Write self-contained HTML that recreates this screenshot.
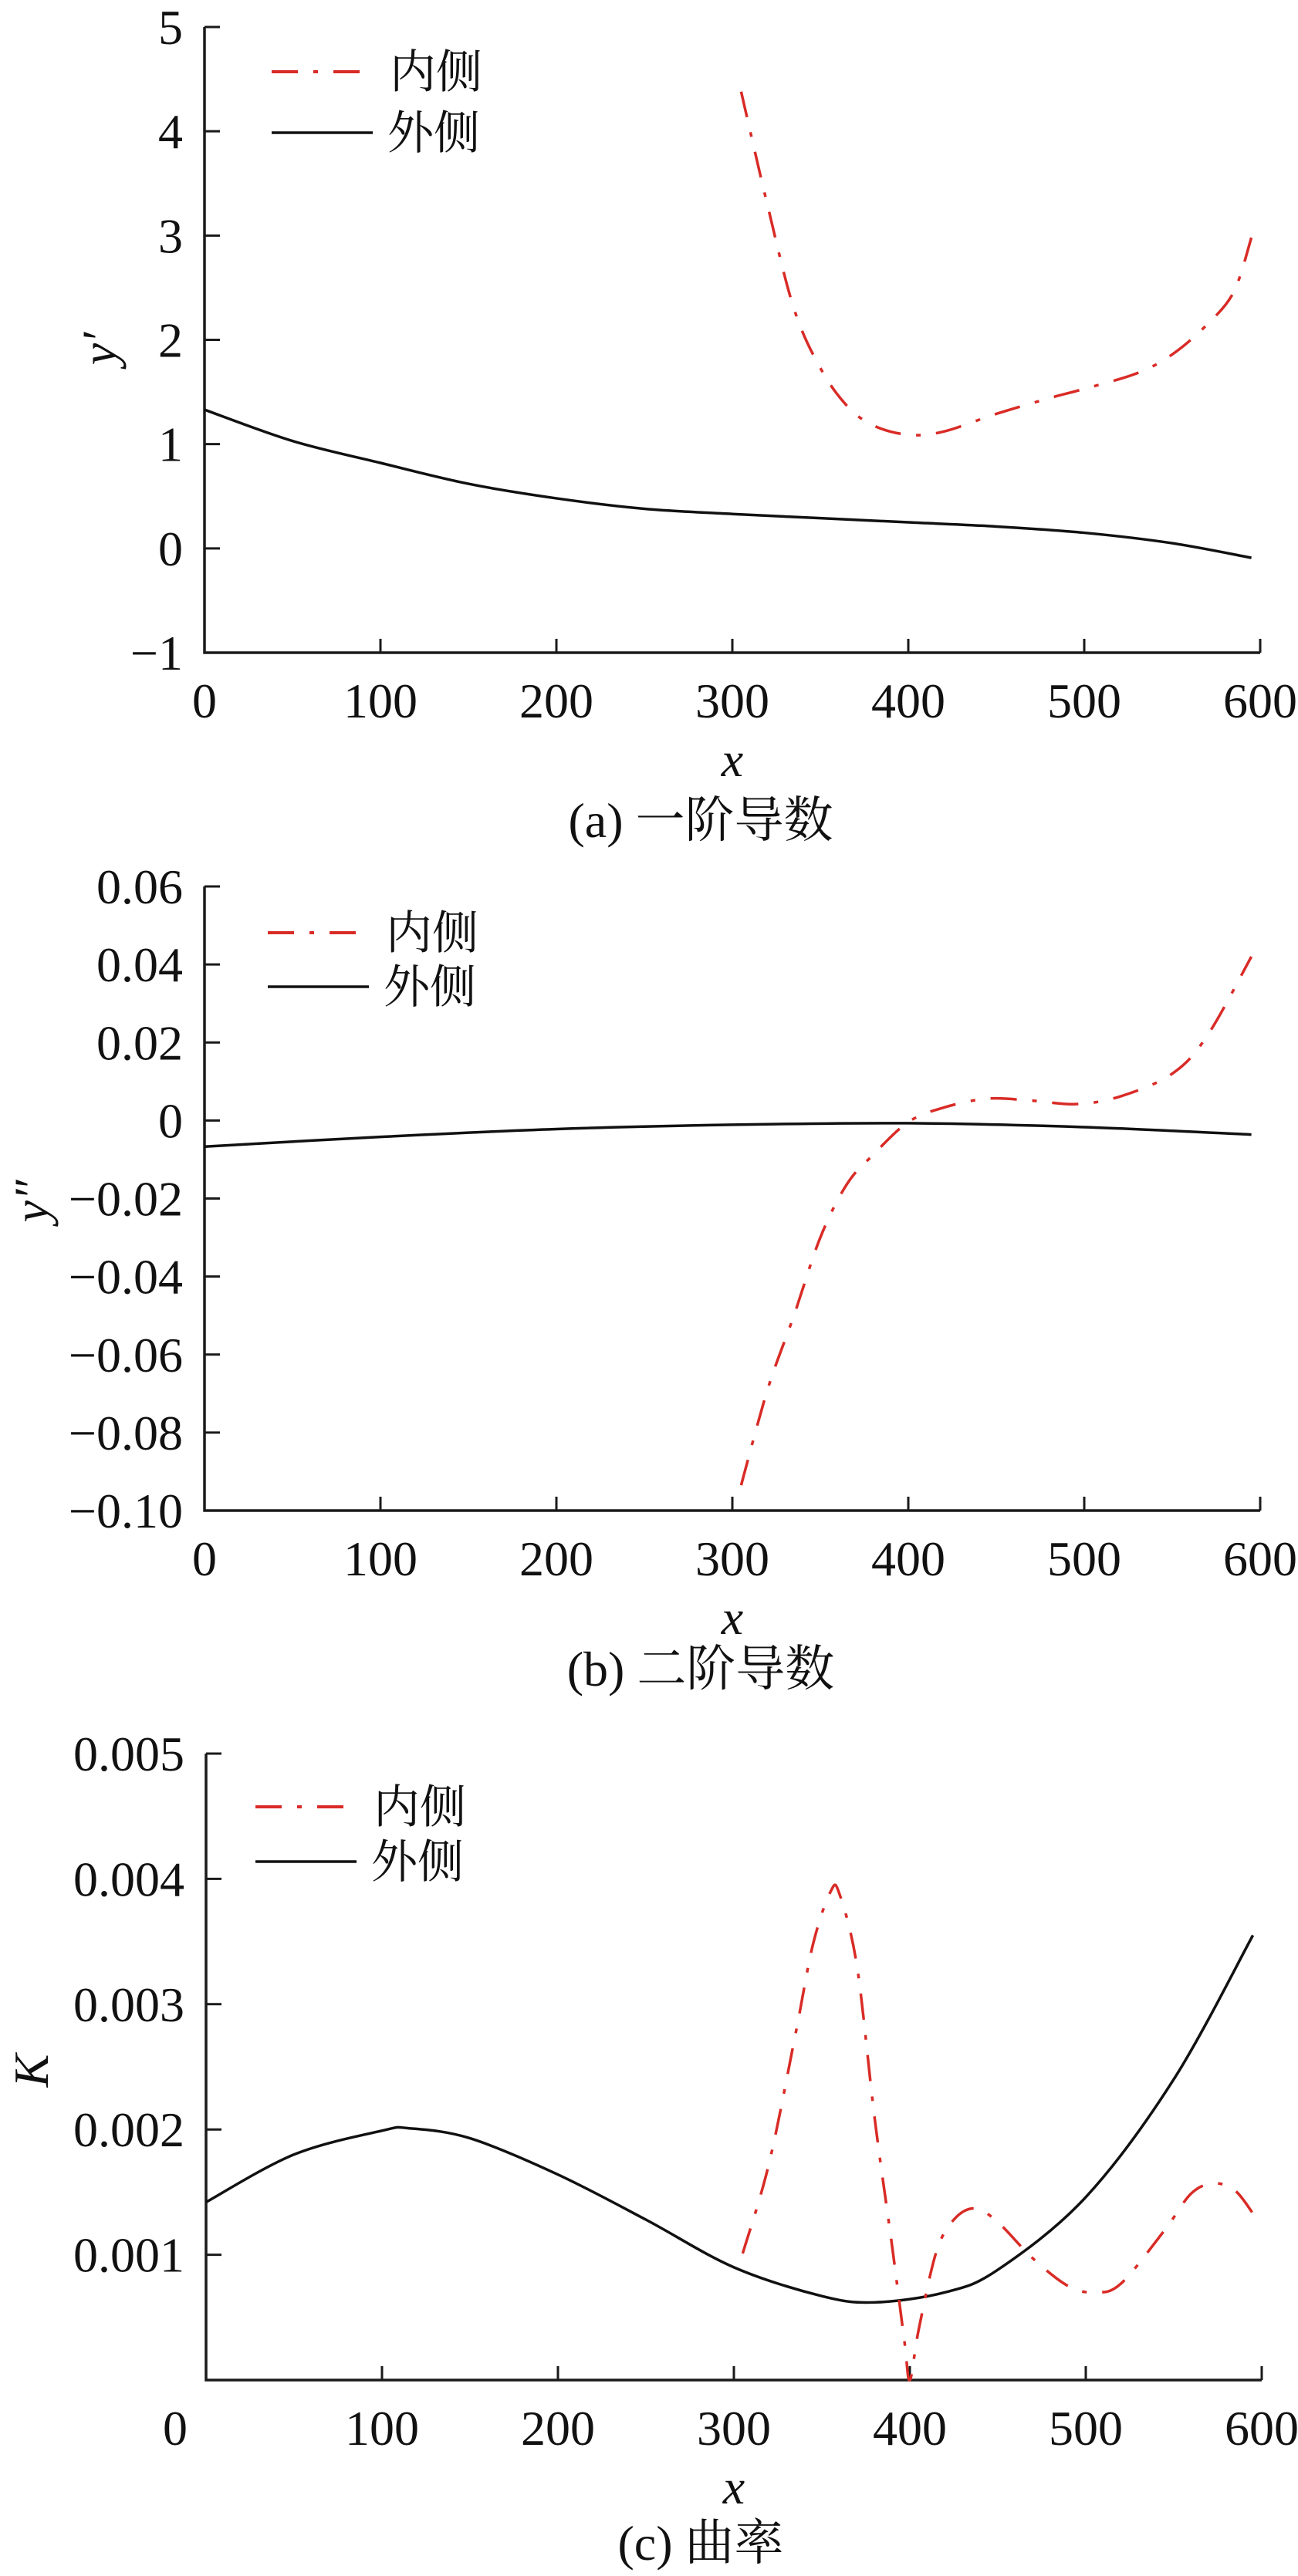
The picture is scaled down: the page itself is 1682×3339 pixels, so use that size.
<!DOCTYPE html>
<html><head><meta charset="utf-8">
<style>
html,body{margin:0;padding:0;background:#fff;}
svg{display:block;}
text{font-family:"Liberation Serif","Noto Serif CJK SC",serif;fill:#111;}
</style></head>
<body>
<svg id="fig" width="1682" height="3339" viewBox="0 0 1682 3339" xmlns="http://www.w3.org/2000/svg"></svg>
<script>
// ---- data ----
const xTicks = [0,100,200,300,400,500,600];
const aYTicks = [-1,0,1,2,3,4,5];
const aOuterX = [0,50,100,150,200,250,300,350,400,450,500,550,595];
const aOuterY = [1.33,1.03,0.82,0.62,0.48,0.38,0.33,0.29,0.25,0.21,0.15,0.05,-0.09];
const aInnerX = [305,320,335,350,365,380,400,420,450,480,500,530,550,570,585,595];
const aInnerY = [4.38,3.29,2.3,1.73,1.37,1.18,1.09,1.12,1.29,1.44,1.53,1.68,1.86,2.15,2.46,2.98];

const bYTicks = [-0.10,-0.08,-0.06,-0.04,-0.02,0,0.02,0.04,0.06];
const bYLabels = ["\u22120.10","\u22120.08","\u22120.06","\u22120.04","\u22120.02","0","0.02","0.04","0.06"];
const bOuterX = [0,100,200,300,400,500,595];
const bOuterY = [-0.0067,-0.0042,-0.0022,-0.0011,-0.0007,-0.0017,-0.0036];
const bInnerX = [305,320,335,350,365,380,400,420,445,470,495,520,550,570,595];
const bInnerY = [-0.0935,-0.069,-0.05,-0.030,-0.0164,-0.0088,-0.0004,0.0033,0.0056,0.0051,0.0042,0.0061,0.012,0.0218,0.042];

const cYTicks = [0.001,0.002,0.003,0.004,0.005];
const cOuterX = [0,50,100,115,150,200,250,300,350,380,420,450,500,550,595];
const cOuterY = [0.00142,0.0018,0.00199,0.00201,0.00193,0.00164,0.00128,0.0009,0.00067,0.00062,0.0007,0.00088,0.00146,0.0024,0.00355];
const cInnerX = [305,320,335,345,355,360,370,380,390,397,400,405,415,425,437,450,470,490,505,520,545,560,573,585,595];
const cInnerY = [0.00101,0.00173,0.00276,0.00348,0.0039,0.00388,0.0033,0.00209,0.00106,0.0003,0.0,0.0004,0.00102,0.00128,0.00137,0.00126,0.00097,0.00075,0.0007,0.00077,0.0012,0.00149,0.00157,0.00151,0.00133];

const NS = "http://www.w3.org/2000/svg";
const svg = document.getElementById('fig');
function mk(tag, attrs, parent){
  const e = document.createElementNS(NS, tag);
  for (const k in attrs) e.setAttribute(k, attrs[k]);
  (parent||svg).appendChild(e);
  return e;
}
function smoothPath(pts){
  let d = `M${pts[0][0]},${pts[0][1]}`;
  for (let i=0;i<pts.length-1;i++){
    const p0=pts[Math.max(0,i-1)], p1=pts[i], p2=pts[i+1], p3=pts[Math.min(pts.length-1,i+2)];
    const c1x=p1[0]+(p2[0]-p0[0])/6, c1y=p1[1]+(p2[1]-p0[1])/6;
    const c2x=p2[0]-(p3[0]-p1[0])/6, c2y=p2[1]-(p3[1]-p1[1])/6;
    d += ` C${c1x},${c1y} ${c2x},${c2y} ${p2[0]},${p2[1]}`;
  }
  return d;
}
function panel(cfg){
  const g = mk('g',{});
  
  
  const X = v => cfg.x0 + (v-0)/600*(cfg.x1-cfg.x0);
  const Y = v => cfg.yb + (v-cfg.ymin)/(cfg.ymax-cfg.ymin)*(cfg.yt-cfg.yb);
  // axes
  const ax = mk('path',{d:`M${cfg.x0},${cfg.yt} L${cfg.x0},${cfg.yb} L${cfg.x1},${cfg.yb}`,fill:'none',stroke:'#1a1a1a','stroke-width':3.5},g);
  
  
  // x ticks
  xTicks.forEach((t,i)=>{
    const x = X(t);
    if (t>0) {
      const tk = mk('line',{x1:x,y1:cfg.yb,x2:x,y2:cfg.yb-18,stroke:'#1a1a1a','stroke-width':3},g);
      
      
    }
    const tx = mk('text',{x:(t===0&&cfg.shift0)?x-40:x,y:cfg.yb+84,'font-size':64,'text-anchor':'middle',transform:`scale(1,1)`},g);
    tx.textContent = t;
    
    
  });
  // y ticks
  cfg.yTicks.forEach((t,i)=>{
    const y = Y(t);
    const tk = mk('line',{x1:cfg.x0,y1:y,x2:cfg.x0+20,y2:y,stroke:'#1a1a1a','stroke-width':3},g);
    
    
    const tx = mk('text',{x:cfg.x0-28,y:y+22,'font-size':64,'text-anchor':'end'},g);
    tx.textContent = cfg.yLabels ? cfg.yLabels[i] : (t<0?'\u2212'+Math.abs(t):String(t));
    
    
  });
  // series
  const outer = mk('path',{d:smoothPath(cfg.ox.map((v,i)=>[X(v),Y(cfg.oy[i])])),fill:'none',stroke:'#111','stroke-width':3.5},g);
  
  
  const inner = mk('path',{d:smoothPath(cfg.ix.map((v,i)=>[X(v),Y(cfg.iy[i])])),fill:'none',stroke:'#d92b26','stroke-width':3.5,'stroke-dasharray':'34 20 6 20'},g);
  
  
  // legend
  const lg = mk('g',{},g);
  
  
  const l1 = mk('line',{x1:cfg.lx,y1:cfg.ly1,x2:cfg.lx+131,y2:cfg.ly1,stroke:'#d92b26','stroke-width':4,'stroke-dasharray':'34 20 6 20'},lg);
  
  
  const t1 = mk('text',{x:cfg.lx+153,y:cfg.ly1+21,'font-size':60},lg);
  t1.textContent='内侧';
  
  
  const l2 = mk('line',{x1:cfg.lx,y1:cfg.ly2,x2:cfg.lx+131,y2:cfg.ly2,stroke:'#111','stroke-width':3.5},lg);
  
  
  const t2 = mk('text',{x:cfg.lx+150,y:cfg.ly2+21,'font-size':60},lg);
  t2.textContent='外侧';
  
  
  // axis titles
  const xl = mk('text',{x:(cfg.x0+cfg.x1)/2,y:cfg.yb+160,'font-size':64,'font-style':'italic','text-anchor':'middle'},g);
  xl.textContent='x';
  
  
  const yl = mk('text',{x:0,y:0,'font-size':64,'font-style':'italic','text-anchor':'middle',transform:`translate(${cfg.ylx},${cfg.yly}) rotate(-90)`},g);
  yl.textContent=cfg.ytitle;
  
  
  const cap = mk('text',{x:908,y:cfg.capY,'font-size':64,'text-anchor':'middle'},g);
  cap.textContent=cfg.caption;
  
  
}
panel({name:'panel-a-first-derivative',x0:265,x1:1633,yt:35,yb:846,ymin:-1,ymax:5,yTicks:aYTicks,
  ox:aOuterX,oy:aOuterY,ix:aInnerX,iy:aInnerY,lx:352,ly1:93,ly2:172,ylx:150,yly:452,ytitle:'y\u2032',
  capY:1085,caption:'(a)  一阶导数'});
panel({name:'panel-b-second-derivative',x0:265,x1:1633,yt:1149,yb:1958,ymin:-0.10,ymax:0.06,yTicks:bYTicks,yLabels:bYLabels,
  ox:bOuterX,oy:bOuterY,ix:bInnerX,iy:bInnerY,lx:347,ly1:1209,ly2:1279,ylx:62,yly:1557,ytitle:'y\u2033',
  capY:2185,caption:'(b)  二阶导数'});
panel({name:'panel-c-curvature',x0:267,x1:1635,yt:2273,yb:3085,ymin:0,ymax:0.005,yTicks:cYTicks,shift0:true,
  ox:cOuterX,oy:cOuterY,ix:cInnerX,iy:cInnerY,lx:331,ly1:2342,ly2:2413,ylx:62,yly:2684,ytitle:'K',
  capY:3318,caption:'(c)  曲率'});
</script>
</body></html>
